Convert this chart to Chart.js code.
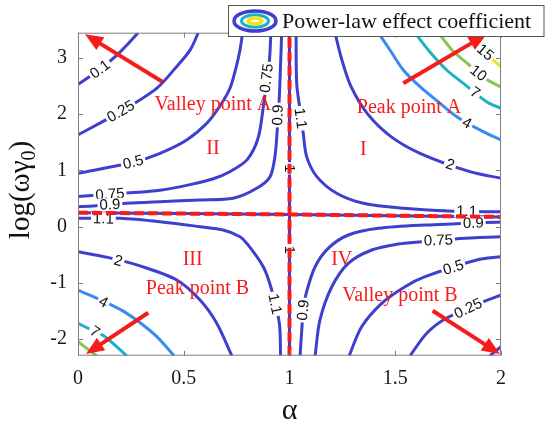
<!DOCTYPE html>
<html><head><meta charset="utf-8">
<script src="https://cdn.jsdelivr.net/npm/chart.js@4.4.0/dist/chart.umd.min.js"></script>
<style>html,body{margin:0;padding:0;background:#fff;}canvas{display:block;}</style>
</head><body>
<canvas id="c" width="550" height="426"></canvas>
<script>
// ---- axis ticks ----
const xTicks = [0, 0.5, 1, 1.5, 2];
const yTicks = [-2, -1, 0, 1, 2, 3];

// ---- contour lines: [alpha, log(ωγ0)] ----
const c010a = [[0,2.53],[0.104,2.80],[0.184,3.05],[0.236,3.25],[0.284,3.45]];
const c010b = [[1.948,-2.30],[2.0,-2.14]];
const c025a = [[0,1.63],[0.199,2.04],[0.372,2.46],[0.467,2.85],[0.530,3.14],[0.569,3.45]];
const c025b = [[1.570,-2.30],[1.649,-1.90],[1.743,-1.63],[1.916,-1.34],[2,-1.22]];
const c050a = [[0,0.947],[0.261,1.143],[0.388,1.303],[0.514,1.54],[0.609,1.837],[0.671,2.145],[0.719,2.466],[0.749,2.857],[0.766,3.142],[0.778,3.45]];
const c050b = [[1.282,-2.30],[1.341,-1.784],[1.436,-1.367],[1.546,-1.072],[1.641,-0.894],[1.885,-0.596],[2,-0.538]];
const c075a = [[0,0.534],[0.23,0.595],[0.388,0.645],[0.53,0.745],[0.64,0.85],[0.72,0.98],[0.80,1.19],[0.852,1.58],[0.876,2.13],[0.905,2.96],[0.912,3.45]];
const c075b = [[1.121,-2.30],[1.144,-1.664],[1.2,-1.072],[1.278,-0.655],[1.389,-0.418],[1.514,-0.312],[1.625,-0.271],[1.806,-0.214],[2,-0.182]];
const c090a = [[0,0.353],[0.072,0.365],[0.23,0.413],[0.388,0.442],[0.577,0.472],[0.734,0.502],[0.845,0.68],[0.908,0.887],[0.931,1.243],[0.942,1.718],[0.952,2.311],[0.958,2.905],[0.963,3.45]];
const c090b = [[1.05,-2.30],[1.058,-1.842],[1.065,-1.487],[1.081,-1.161],[1.121,-0.716],[1.183,-0.388],[1.278,-0.151],[1.42,-0.032],[1.641,0.027],[2,0.080]];
const c100v = [[1,-2.3],[1,3.45]];
const c100h = [[0,0.245],[1,0.215],[2,0.17]];
const c110a = [[1.031,3.45],[1.034,2.549],[1.05,2.074],[1.065,1.659],[1.081,1.243],[1.129,0.887],[1.223,0.591],[1.349,0.413],[1.538,0.324],[1.775,0.27],[2,0.263]];
const c110b = [[0,0.146],[0.199,0.146],[0.388,0.085],[0.577,-0.004],[0.687,-0.062],[0.766,-0.182],[0.798,-0.299],[0.876,-0.716],[0.916,-1.131],[0.952,-1.723],[0.958,-2.30]];
const c200a = [[1.215,3.45],[1.245,3.0],[1.29,2.5],[1.37,2.0],[1.48,1.6],[1.617,1.303],[1.853,0.976],[2,0.858]];
const c200b = [[0,-0.449],[0.14,-0.55],[0.293,-0.70],[0.467,-0.952],[0.577,-1.309],[0.656,-1.723],[0.727,-2.30]];
const c400a = [[1.42,3.45],[1.475,3.142],[1.538,2.786],[1.617,2.489],[1.712,2.193],[1.791,1.955],[1.916,1.688],[2,1.54]];
const c400b = [[0,-1.131],[0.159,-1.398],[0.22,-1.52],[0.297,-1.723],[0.375,-1.97],[0.454,-2.30]];
const c700a = [[1.593,3.45],[1.664,3.107],[1.743,2.786],[1.822,2.549],[1.932,2.222],[2,2.104]];
const c700b = [[0,-1.723],[0.08,-1.873],[0.128,-1.962],[0.23,-2.30]];
const c1000a = [[1.704,3.45],[1.768,3.142],[1.844,2.893],[1.929,2.626],[2,2.484]];
const c1000b = [[0,-2.051],[0.088,-2.30]];
const c1500a = [[1.84,3.45],[1.9,3.2],[1.972,2.934],[2,2.845]];

// ---- contour labels: [text, alpha, log(ωγ0), angle] ----
const contourLabels = [
  ['0.1',0.104,2.80,-37],['0.25',0.202,2.05,-30],['0.5',0.261,1.143,-14],
  ['0.75',0.151,0.574,-4],['0.9',0.151,0.389,-3],['1.1',0.12,0.138,1],
  ['2',0.19,-0.61,15],['4',0.12,-1.345,28],['7',0.08,-1.873,34],
  ['0.75',0.892,2.64,-83],['0.9',0.945,1.985,-87],['1.1',1.052,1.926,83],
  ['1',1.0,1.036,90],['1',1.0,-0.418,90],
  ['15',1.925,3.10,40],['10',1.893,2.73,38],['7',1.877,2.385,35],
  ['4',1.838,1.84,28],['2',1.759,1.10,18],
  ['1.1',1.838,0.27,1],['0.9',1.869,0.061,-1],['0.75',1.704,-0.246,-2],
  ['0.5',1.775,-0.73,-17],['0.25',1.845,-1.46,-25],
  ['1.1',0.931,-1.378,78],['0.9',1.065,-1.487,-84]
];

// ---- red annotations ----
const annoText = ['Valley point A','Peak point A','II','I','III','Peak point B','IV','Valley point B'];
const annoX = [0.638,1.565,0.638,1.349,0.542,0.565,1.247,1.522];
const annoY = [2.163,2.11,1.38,1.362,-0.596,-1.113,-0.596,-1.237];
// arrows: [alphaStart, yStart, alphaEnd, yEnd]
const arrows = [[0.399,2.578,0.033,3.422],[1.538,2.549,1.932,3.422],[0.332,-1.535,0.038,-2.27],[1.677,-1.499,1.995,-2.27]];

const LOW='#3e3ecf', C4='#3a8af0', C7='#1bb3c4', C10='#86c653', C15='#f3e31d', RED='#f71c1c';
const lines = [
  [c010a,LOW],[c010b,LOW],[c025a,LOW],[c025b,LOW],[c050a,LOW],[c050b,LOW],
  [c075a,LOW],[c075b,LOW],[c090a,LOW],[c090b,LOW],[c100v,LOW],[c100h,LOW],
  [c110a,LOW],[c110b,LOW],[c200a,LOW],[c200b,LOW],[c400a,C4],[c400b,C4],
  [c700a,C7],[c700b,C7],[c1000a,C10],[c1000b,C10],[c1500a,C15]
];
const toPts = a => a.map(p => ({x:p[0], y:p[1]}));
const datasets = [
  {data:toPts(c100h), borderColor:RED, borderWidth:4, borderDash:[10,4], tension:0},
  {data:toPts(c100v), borderColor:RED, borderWidth:4, borderDash:[10,4], tension:0}
];
lines.forEach(([a,col]) => datasets.push({data:toPts(a), borderColor:col, borderWidth:3, tension:0.3}));
datasets.forEach(d => { d.showLine=true; d.pointRadius=0; d.fill=false; d.clip=0; });

function drawLabels(chart){
  const ctx=chart.ctx, xs=chart.scales.x, ys=chart.scales.y;
  ctx.save();
  ctx.font='15px "Liberation Sans", Arial, sans-serif';
  ctx.textAlign='center'; ctx.textBaseline='middle';
  contourLabels.forEach(([t,a,v,ang]) => {
    const px=xs.getPixelForValue(a), py=ys.getPixelForValue(v);
    const w=ctx.measureText(t).width;
    ctx.save(); ctx.translate(px,py); ctx.rotate(ang*Math.PI/180);
    ctx.fillStyle='#fff'; ctx.fillRect(-w/2-2,-6.5,w+4,13);
    ctx.fillStyle='#111'; ctx.fillText(t,0,0.5);
    ctx.restore();
  });
  ctx.restore();
}

const decor = {
  id:'decor',
  beforeDatasetDraw(chart,args){ if(args.index===1) drawLabels(chart); },
  afterDatasetsDraw(chart){
    const ctx=chart.ctx, a=chart.chartArea, xs=chart.scales.x, ys=chart.scales.y;
    ctx.save();
    // box and inward ticks
    ctx.strokeStyle='#7f7f7f'; ctx.lineWidth=1;
    ctx.strokeRect(a.left+0.5,a.top+0.5,a.right-a.left-1,a.bottom-a.top-1);
    ctx.beginPath();
    xTicks.forEach(v=>{const p=Math.round(xs.getPixelForValue(v))+0.5; ctx.moveTo(p,a.bottom); ctx.lineTo(p,a.bottom-5); ctx.moveTo(p,a.top); ctx.lineTo(p,a.top+5);});
    yTicks.forEach(v=>{const p=Math.round(ys.getPixelForValue(v))+0.5; ctx.moveTo(a.left,p); ctx.lineTo(a.left+5,p); ctx.moveTo(a.right,p); ctx.lineTo(a.right-5,p);});
    ctx.stroke();
    // red annotations
    ctx.fillStyle=RED; ctx.font='20px "Liberation Serif", "Times New Roman", serif';
    ctx.textAlign='center'; ctx.textBaseline='middle';
    annoText.forEach((t,i)=>ctx.fillText(t, xs.getPixelForValue(annoX[i]), ys.getPixelForValue(annoY[i])));
    // arrows
    ctx.strokeStyle=RED; ctx.lineWidth=4; ctx.lineCap='butt';
    arrows.forEach(([x1,y1,x2,y2])=>{
      const X1=xs.getPixelForValue(x1), Y1=ys.getPixelForValue(y1), X2=xs.getPixelForValue(x2), Y2=ys.getPixelForValue(y2);
      const ang=Math.atan2(Y2-Y1,X2-X1), hl=18, hw=7.5;
      const bx=X2-hl*Math.cos(ang), by=Y2-hl*Math.sin(ang);
      ctx.beginPath(); ctx.moveTo(X1,Y1); ctx.lineTo(bx+2*Math.cos(ang),by+2*Math.sin(ang)); ctx.stroke();
      ctx.beginPath(); ctx.moveTo(X2,Y2);
      ctx.lineTo(bx+hw*Math.sin(ang), by-hw*Math.cos(ang));
      ctx.lineTo(bx-hw*Math.sin(ang), by+hw*Math.cos(ang));
      ctx.closePath(); ctx.fill();
    });
    // axis titles
    ctx.fillStyle='#111'; ctx.textBaseline='alphabetic';
    ctx.font='30px "Liberation Serif", "Times New Roman", serif'; ctx.textAlign='center';
    ctx.fillText('α', (a.left+a.right)/2, 419);
    ctx.save(); ctx.translate(29,190); ctx.rotate(-Math.PI/2);
    const big='29px "Liberation Serif", "Times New Roman", serif', small='20px "Liberation Serif", "Times New Roman", serif';
    ctx.font=big; const w1=ctx.measureText('log(ωγ').width, w3=ctx.measureText(')').width;
    ctx.font=small; const w2=ctx.measureText('0').width;
    let x0=-(w1+w2+w3)/2; ctx.textAlign='left';
    ctx.font=big; ctx.fillText('log(ωγ',x0,0); x0+=w1;
    ctx.font=small; ctx.fillText('0',x0,6); x0+=w2;
    ctx.font=big; ctx.fillText(')',x0,0);
    ctx.restore();
    // legend
    ctx.fillStyle='#fff'; ctx.fillRect(228.5,5.5,315.5,31);
    ctx.strokeStyle='#555'; ctx.lineWidth=1; ctx.strokeRect(228.5,5.5,315.5,31);
    const ex=255, ey=21;
    ctx.lineWidth=3.5; ctx.strokeStyle=LOW; ctx.beginPath(); ctx.ellipse(ex,ey,21,10,0,0,2*Math.PI); ctx.stroke();
    ctx.lineWidth=3; ctx.strokeStyle=C7; ctx.beginPath(); ctx.ellipse(ex,ey,13.5,6.3,0,0,2*Math.PI); ctx.stroke();
    ctx.lineWidth=3.5; ctx.strokeStyle=C15; ctx.beginPath(); ctx.ellipse(ex,ey,7,3,0,0,2*Math.PI); ctx.stroke();
    ctx.fillStyle='#111'; ctx.font='22px "Liberation Serif", "Times New Roman", serif';
    ctx.textAlign='left'; ctx.textBaseline='middle';
    ctx.fillText('Power-law effect coefficient', 282, 22);
    ctx.restore();
  }
};

const tickFont = {family:'"Liberation Serif", "Times New Roman", serif', size:20};
new Chart(document.getElementById('c'), {
  type:'scatter',
  data:{datasets},
  options:{
    responsive:false, animation:false, devicePixelRatio:1,
    layout:{padding:{top:32.7,right:49,left:0,bottom:0}},
    plugins:{legend:{display:false}, tooltip:{enabled:false}},
    scales:{
      x:{type:'linear', min:0, max:2,
         afterBuildTicks:s=>{s.ticks=xTicks.map(v=>({value:v}));},
         afterFit:s=>{s.height=70.3;},
         grid:{display:false, drawTicks:false, tickLength:0}, border:{display:false},
         ticks:{font:tickFont, color:'#1a1a1a', padding:11, maxRotation:0, autoSkip:false, callback:v=>String(v)}},
      y:{type:'linear', min:-2.3, max:3.45,
         afterBuildTicks:s=>{s.ticks=yTicks.map(v=>({value:v}));},
         afterFit:s=>{s.width=78;},
         grid:{display:false, drawTicks:false, tickLength:0}, border:{display:false},
         ticks:{font:tickFont, color:'#1a1a1a', padding:11, autoSkip:false, callback:v=>String(v)}}
    }
  },
  plugins:[decor]
});
</script>
</body></html>
